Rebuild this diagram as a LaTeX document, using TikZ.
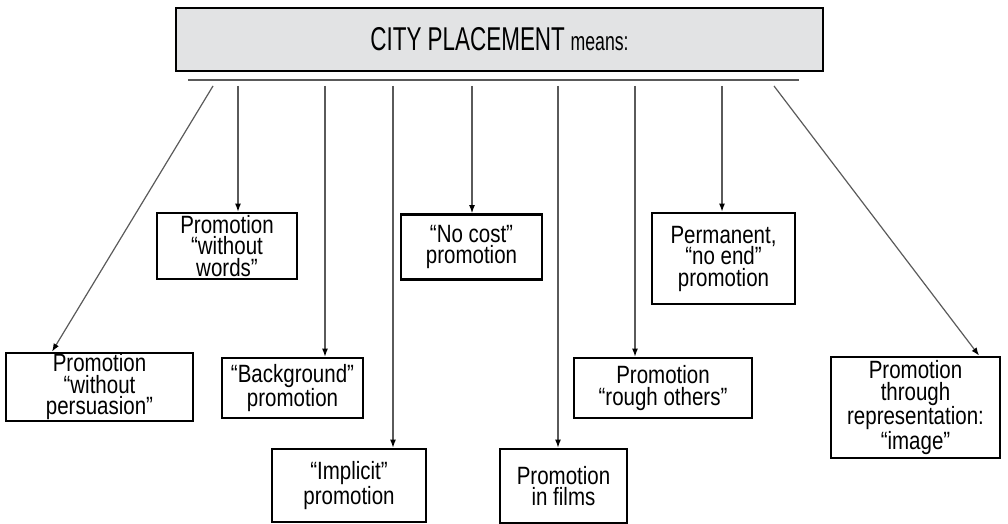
\documentclass[tikz,border=0pt]{standalone}
\usepackage{fontspec}
\setmainfont[FakeStretch=0.82]{Liberation Sans}
\newfontfamily\titlefont[FakeStretch=0.68]{Liberation Sans}
\usepackage{tikz}
\usetikzlibrary{positioning,arrows.meta,calc}
\definecolor{headgray}{HTML}{E2E3E4}
\definecolor{linegray}{HTML}{5A5A5A}

\begin{document}
\begin{tikzpicture}[x=1pt, y=-1pt,
    font=\fontsize{25}{21.5}\selectfont,
    idea/.style={draw, line width=2.8pt, align=center, inner sep=0pt, fill=white},
    head/.style={draw, line width=2.4pt, fill=headgray, inner sep=0pt,
        minimum width=647pt, minimum height=63pt},
    ar/.style={-{Latex[length=8pt, width=6pt, color=black]}, line width=1.2pt, draw=linegray},
    bar/.style={line width=1.8pt, draw=black!65},
]
    \useasboundingbox (0,0) rectangle (1008,524);

    % ---------- cabecera ----------
    \node[head] (city) at (499.5,39.5)
        {{\titlefont\fontsize{33}{34}\selectfont CITY PLACEMENT}
         {\titlefont\fontsize{26}{27}\selectfont means:}};
    \coordinate (barL) at (188,80);
    \coordinate (barR) at (799,80);
    \draw[bar] (barL) -- (barR);

    % ---------- fila alta ----------
    \node[idea, minimum width=140pt, minimum height=66pt] (words) at (227,246)
        {Promotion\\“without\\words”};
    \node[idea, minimum width=141pt, minimum height=65pt] (nocost) at (471.5,247)
        {“No cost”\\promotion};
    \node[idea, minimum width=143pt, minimum height=91pt] (permanent) at (723.5,258.5)
        {Permanent,\\“no end”\\promotion};

    % ---------- fila media ----------
    \node[idea, minimum width=187pt, minimum height=68pt] (persuasion) at (99.5,387)
        {Promotion\\“without\\persuasion”};
    \node[idea, minimum width=141pt, minimum height=60pt] (background) at (292.5,388)
        {“Background”\\promotion};
    \node[idea, minimum width=178pt, minimum height=60pt] (rough) at (663,388)
        {Promotion\\“rough others”};
    \node[idea, minimum width=169pt, minimum height=101pt] (image) at (915.5,407.5)
        {Promotion\\through\\representation:\\“image”};

    % ---------- fila baja ----------
    \node[idea, minimum width=154pt, minimum height=73pt] (implicit) at (349,485.5)
        {“Implicit”\\promotion};
    \node[idea, minimum width=127pt, minimum height=74pt] (films) at (563.5,486)
        {Promotion\\in films};

    % ---------- flechas ----------
    \foreach \nm/\xx in {s1/213, s2/238, s3/325, s4/393, s5/472, s6/558, s7/635, s8/722, s9/774}
        \coordinate (\nm) at (\xx,86);
    \draw[ar] (s1) -- ($(persuasion.north west)!0.25!(persuasion.north east)$);
    \draw[ar] (s2) -- (s2 |- words.north);
    \draw[ar] (s3) -- (s3 |- background.north);
    \draw[ar] (s4) -- (s4 |- implicit.north);
    \draw[ar] (s5) -- (s5 |- nocost.north);
    \draw[ar] (s6) -- (s6 |- films.north);
    \draw[ar] (s7) -- (s7 |- rough.north);
    \draw[ar] (s8) -- (s8 |- permanent.north);
    \draw[ar] (s9) -- ($(image.north west)!0.87!(image.north east)$);
\end{tikzpicture}
\end{document}
